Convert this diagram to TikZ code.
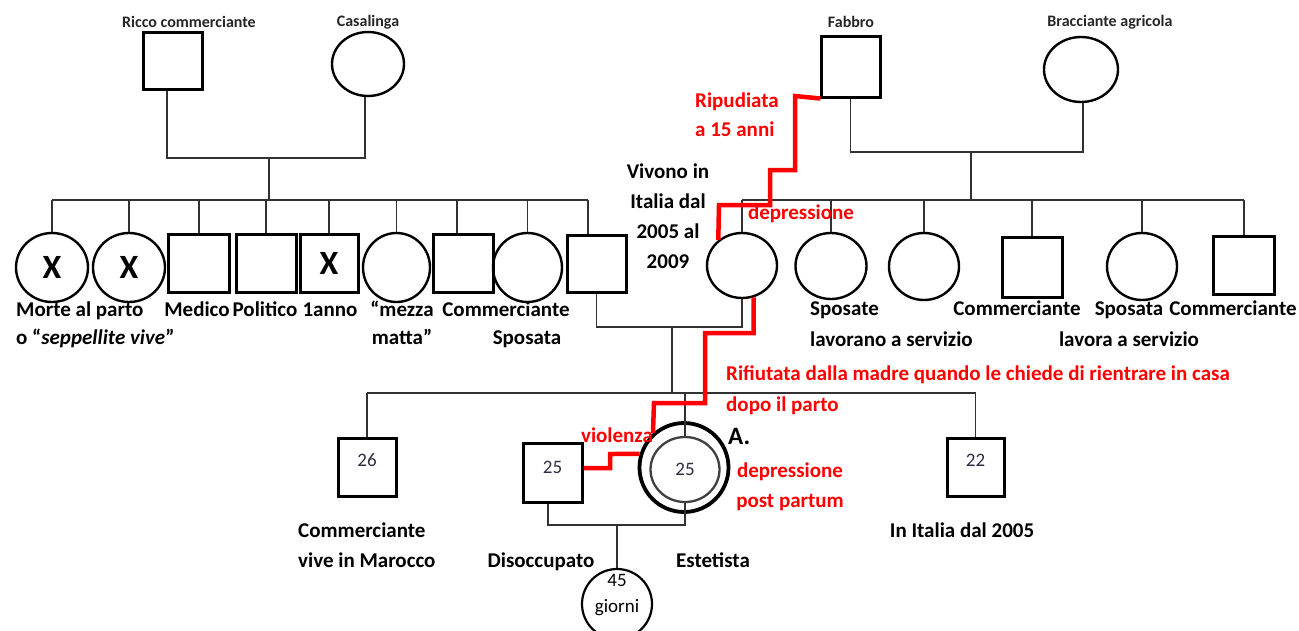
\documentclass[tikz,border=0pt]{standalone}
\usepackage{fontspec}
\setmainfont{Carlito}
\usetikzlibrary{shapes.geometric}
\definecolor{numc}{RGB}{45,45,65}
\definecolor{lnc}{RGB}{50,50,50}
\begin{document}
\begin{tikzpicture}[x=1pt,y=-1pt,
  sq/.style={draw=black, line width=3pt, rectangle, inner sep=0pt, minimum width=59pt, minimum height=58pt},
  ci/.style={draw=black, line width=2.4pt, ellipse, inner sep=0pt},
  conn/.style={draw=lnc, line width=1.3pt},
  redl/.style={draw=red, line width=4.5pt, line join=miter},
  lbl/.style={font=\fontsize{21}{#1}\selectfont\bfseries, align=center, inner sep=0pt},
  lbl/.default=30,
  toplbl/.style={font=\fontsize{16}{18}\selectfont\bfseries, inner sep=0pt, text=black!85},
  num/.style={font=\fontsize{19}{22}\selectfont, text=numc, inner sep=0pt},
  xmark/.style={font=\fontsize{34}{34}\selectfont\bfseries},
]
\fill[white] (0,0) rectangle (1299,630);
\useasboundingbox (0,0) rectangle (1299,630);

% ---------- grandparents left
\node[sq, minimum width=59pt, minimum height=57pt] (gf1) at (172.5,60.5) {};
\node[ci, minimum width=72pt, minimum height=64pt] (gm1) at (368,64) {};
\node[toplbl] (tgf1) at (189,22) {Ricco commerciante};
\node[toplbl] (tgm1) at (368,22) {Casalinga};
\coordinate (u1) at (269,158);
\coordinate (u1b) at (269,200);
\draw[conn] ([xshift=-5.5pt]gf1.south) |- (u1) -| ([xshift=-3pt]gm1.south);
\draw[conn] (u1) -- (u1b);

% ---------- grandparents right
\node[sq, minimum width=59pt, minimum height=61pt] (gf2) at (850.5,66.5) {};
\node[ci, minimum width=74pt, minimum height=65pt] (gm2) at (1081,69.5) {};
\node[toplbl] (tgf2) at (851,22) {Fabbro};
\node[toplbl] (tgm2) at (1110,22) {Bracciante agricola};
\coordinate (u2) at (971,152);
\coordinate (u2b) at (971,200);
\draw[conn] (gf2.south) |- (u2) -| ([xshift=2pt]gm2.south);
\draw[conn] (u2) -- (u2b);

% ---------- siblings left
\node[ci, minimum width=72pt, minimum height=69pt, xmark] (c1) at (52,267.5) {X};
\node[ci, minimum width=72pt, minimum height=69pt, xmark] (c2) at (129,267.5) {X};
\node[sq, minimum width=61pt] (c3) at (199,263) {};
\node[sq, minimum width=60pt] (c4) at (266,263) {};
\node[sq, minimum width=58pt, xmark] (c5) at (329,263) {X};
\node[ci, minimum width=67pt, minimum height=69pt] (c6) at (396.5,267.5) {};
\node[sq, minimum width=60pt] (c7) at (463,263) {};
\node[ci, minimum width=69pt, minimum height=69pt] (c8) at (527.5,267.5) {};
\node[sq, minimum width=59pt, minimum height=57pt] (c9) at (596.5,263.5) {};
\draw[conn] (c1.north |- u1b) -- ([xshift=-8.5pt]c9.north |- u1b);
\foreach \n in {c1,c2,c3,c4,c5,c6,c8}{\draw[conn] (\n.north |- u1b) -- (\n.north);}
\draw[conn] ([xshift=-6pt]c7.north |- u1b) -- ([xshift=-6pt]c7.north);
\draw[conn] ([xshift=-8.5pt]c9.north |- u1b) -- ([xshift=-8.5pt]c9.north);

\node[lbl=28, align=left, anchor=base west] (lc1) at (16,344) {Morte al parto\\o “\textit{seppellite vive}”};
\node[lbl, anchor=base] (lc3) at (197,316) {Medico};
\node[lbl, anchor=base] (lc4) at (265,316) {Politico};
\node[lbl, anchor=base] (lc5) at (330,316) {1anno};
\node[lbl=28, anchor=base] (lc6) at (402,344) {“mezza\\matta”};
\node[lbl, anchor=base] (lc7) at (506,316) {Commerciante};
\node[lbl, anchor=base] (lc8) at (527,344) {Sposata};

% ---------- siblings right
\node[ci, minimum width=70pt, minimum height=65pt] (w) at (742,265.5) {};
\node[ci, minimum width=71pt, minimum height=66pt] (r1) at (831,266) {};
\node[ci, minimum width=70pt, minimum height=67pt] (r2) at (924,266.5) {};
\node[sq, minimum width=60pt, minimum height=60pt] (r3) at (1032,267) {};
\node[ci, minimum width=70pt, minimum height=67pt] (r4) at (1142,266.5) {};
\node[sq, minimum width=61pt, minimum height=58pt] (r5) at (1244,265) {};
\draw[conn] (w.north |- u2b) -- (r5.north |- u2b);
\foreach \n in {w,r1,r2,r3,r4,r5}{\draw[conn] (\n.north |- u2b) -- (\n.north);}

\node[lbl=31, align=left, anchor=base west] (lr1) at (810,346) {Sposate\\lavorano a servizio};
\node[lbl, anchor=base] (lr3) at (1017,315) {Commerciante};
\node[lbl=31, anchor=base] (lr4) at (1129,346) {Sposata\\lavora a servizio};
\node[lbl, anchor=base] (lr5) at (1233,315) {Commerciante};

\node[lbl=29.7, anchor=base] (viv) at (668,268) {Vivono in\\Italia dal\\2005 al\\2009};

% ---------- couple and children
\coordinate (u3) at (672,327);
\coordinate (u3b) at (672,393);
\draw[conn] (c9.south) |- (u3) -| (w.south);
\draw[conn] (u3) -- (u3b);

\node[sq, minimum width=58pt, minimum height=58pt, label={[num, yshift=7pt]center:26}] (s1) at (367,467) {};
\node[sq, minimum width=59pt, minimum height=59pt, label={[num, yshift=5pt]center:25}] (h) at (552.5,472.5) {};
\node[ci, line width=3.8pt, minimum width=89pt, minimum height=89pt] (aout) at (684,467.5) {};
\node[ci, draw=black!75, line width=2.3pt, minimum width=69pt, minimum height=65pt, num] (ain) at (685,469.5) {25};
\node[sq, minimum width=57pt, minimum height=58pt, label={[num, yshift=7pt]center:22}] (b3) at (975.5,467) {};
\draw[conn] (s1.north |- u3b) -- (b3.north |- u3b);
\draw[conn] (s1.north |- u3b) -- (s1.north);
\draw[conn] (ain.north |- u3b) -- (ain.north);
\draw[conn] (b3.north |- u3b) -- (b3.north);

\coordinate (u4) at (617,525);
\node[ci, line width=2.2pt, minimum width=70pt, minimum height=70pt,
  label={[font=\fontsize{19}{26}\selectfont, align=center, inner sep=0pt, yshift=9pt]center:{45\\giorni}}] (baby) at (617,604) {};
\draw[conn] ([xshift=-4.5pt]h.south) |- (u4) -| (ain.south);
\draw[conn] (u4) -- (baby.north);

\node[lbl, align=left, anchor=base west] (ls1) at (298,567) {Commerciante\\vive in Marocco};
\node[lbl, anchor=base] (lh) at (541,567) {Disoccupato};
\node[lbl, anchor=base] (la) at (713,567) {Estetista};
\node[lbl, anchor=base] (lb3) at (962,537) {In Italia dal 2005};
\node[font=\fontsize{25}{30}\selectfont\bfseries, anchor=base west, inner sep=0pt] (alab) at (728,444) {A.};

% ---------- red relations
\draw[redl] ([xshift=1pt]gf2.south west) -- (795,96) -- (795,170) -- (770,170) -- (770,205) -- (719,205) -- (w.133);
\draw[redl] (w.-70) |- (705,333) |- (654,403) -- (aout.132);
\draw[redl] ([yshift=4.5pt]h.east) -| (610,454) -- (aout.163);

\node[lbl=29, text=red, align=left, anchor=base west] (rip) at (695,136) {Ripudiata\\a 15 anni};
\node[lbl, text=red, anchor=base] (dep1) at (801,219) {depressione};
\node[lbl=31, text=red, align=left, anchor=base west] (rif) at (726,411) {Rifiutata dalla madre quando le chiede di rientrare in casa\\dopo il parto};
\node[lbl, text=red, anchor=base] (vio) at (617,442) {violenza};
\node[lbl=30, text=red, anchor=base] (dep2) at (790,507) {depressione\\post partum};
\end{tikzpicture}
\end{document}
